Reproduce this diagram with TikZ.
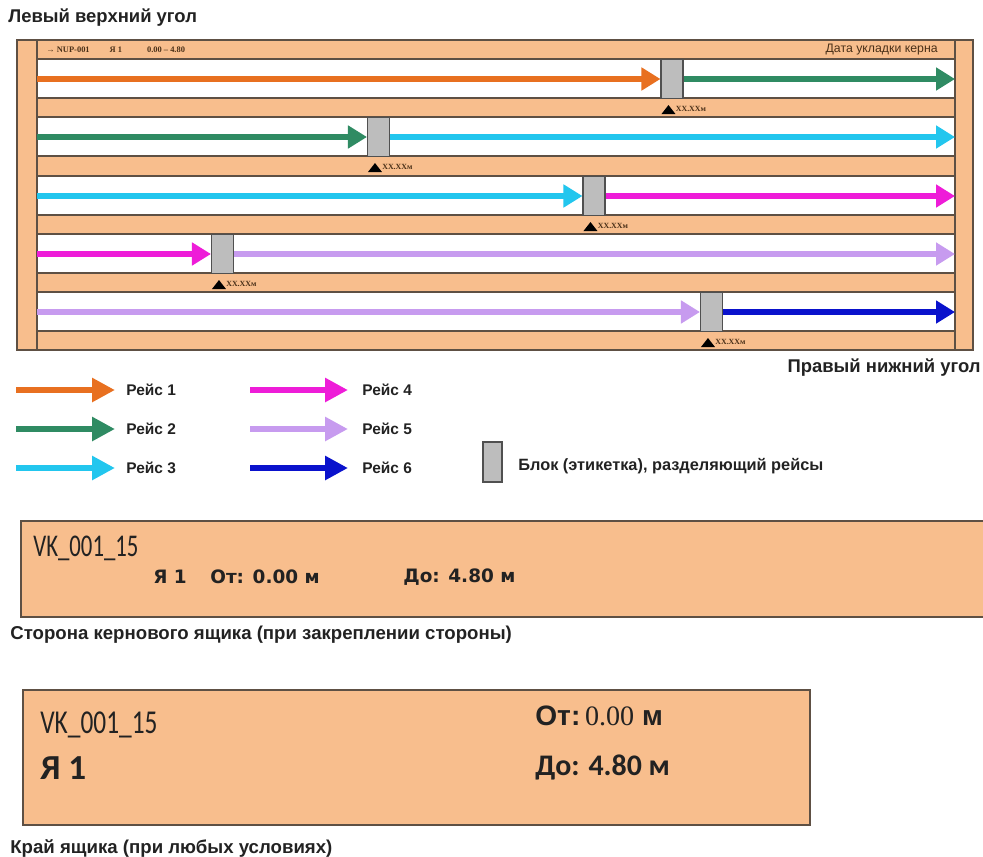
\documentclass[tikz,border=0pt]{standalone}
\usepackage{fontspec}
\setmainfont{Liberation Sans}
\newfontfamily\labelserif{Liberation Serif}
\newfontfamily\carlito{Carlito}
\newfontfamily\carlitonarrow[FakeStretch=0.72]{Carlito}
\newfontfamily\carlitowide[FakeStretch=0.76]{Carlito}
\newfontfamily\dejavu{DejaVu Sans}
\usepackage{tikz}
\usetikzlibrary{positioning, arrows.meta, calc}
\definecolor{reisOrange}{HTML}{E87020}
\definecolor{reisGreen}{HTML}{2F8B63}
\definecolor{reisCyan}{HTML}{22C6EE}
\definecolor{reisMagenta}{HTML}{EE1CD8}
\definecolor{reisLilac}{HTML}{C79BEF}
\definecolor{reisBlue}{HTML}{0A12CC}
\definecolor{boxPeach}{HTML}{F8BE8D}
\definecolor{boxLine}{HTML}{5E5044}
\definecolor{blockGray}{HTML}{BDBDBD}
\definecolor{blockEdge}{HTML}{505050}
\definecolor{tagBrown}{HTML}{4A3018}
\definecolor{textDark}{HTML}{222222}

\begin{document}
\begin{tikzpicture}[
  x=0.02cm, y=-0.02cm,
  every node/.style={inner sep=0pt, text=textDark},
  reis/.style={#1, line width=3.6pt, -{Triangle[length=3.8mm, width=4.4mm]}},
  legarrow/.style={#1, line width=3.6pt, -{Triangle[length=4.6mm, width=4.6mm]}},
  blockbox/.style={
    draw=blockEdge, fill=blockGray, line width=0.6pt,
    minimum width=0.44cm, minimum height=0.78cm
  },
  tag/.style={font=\labelserif\fontsize{4.5}{5}\selectfont\bfseries, text=tagBrown, anchor=west},
  corner/.style={font=\fontsize{10.5}{12}\selectfont\bfseries},
  legtext/.style={font=\fontsize{8.8}{10}\selectfont\bfseries, anchor=west},
  caption/.style={font=\fontsize{10.6}{12}\selectfont\bfseries, anchor=west},
]
\useasboundingbox (0,0) rectangle (983,856);

% Corner labels
\node[corner, anchor=west] (topleft) at (8,18) {Левый верхний угол};
\node[corner, anchor=east] (bottomright) at (981,368) {Правый нижний угол};

% Core box with rows
\fill[boxPeach] (17,40) rectangle (973,350);
\foreach \yc in {79,137,196,254,312} {
  \fill[white] (37,\yc-20) rectangle (955,\yc+19);
  \draw[boxLine, line width=0.7pt] (37,\yc-20) -- (955,\yc-20);
  \draw[boxLine, line width=0.7pt] (37,\yc+19) -- (955,\yc+19);
}
\draw[boxLine, line width=0.8pt] (17,40) rectangle (973,350);
\draw[boxLine, line width=0.7pt] (37,40) -- (37,350);
\draw[boxLine, line width=0.7pt] (955,40) -- (955,350);

% Header strip
\node[tag, font=\labelserif\fontsize{4.8}{5}\selectfont\bfseries] (headid) at (46,50)
  {→ NUP-001\hspace{4mm}Я 1\hspace{5mm}0.00 – 4.80};
\node[font=\fontsize{7}{8}\selectfont, text=tagBrown, anchor=east] (laydate) at (938,50) {Дата укладки керна};

% Runs and separating blocks
\foreach \i/\yc/\bx/\ca/\cb in {
  1/79/672/reisOrange/reisGreen,
  2/137/378.5/reisGreen/reisCyan,
  3/196/594/reisCyan/reisMagenta,
  4/254/222.5/reisMagenta/reisLilac,
  5/312/711.5/reisLilac/reisBlue} {
  \node[blockbox] (blk\i) at (\bx,\yc) {};
  \coordinate (rs\i) at (37,\yc);
  \coordinate (re\i) at (955,\yc);
  \draw[reis=\ca] (rs\i) -- (blk\i.west);
  \draw[reis=\cb] (blk\i.east) -- (re\i);
  \fill[black] ($(blk\i.south west)+(1,15)$) -- ++(14,0) -- ++(-7,-9) -- cycle;
  \node[tag] (tag\i) at ($(blk\i.south west)+(15,10)$) {ХХ.ХХм};
}

% Legend
\foreach \n/\yy/\cl in {1/390/reisOrange, 2/429/reisGreen, 3/468/reisCyan} {
  \coordinate (la\n) at (16,\yy);
  \coordinate (lb\n) at (115,\yy);
  \draw[legarrow=\cl] (la\n) -- (lb\n);
  \node[legtext] (lt\n) at (126,\yy) {Рейс \n};
}
\foreach \n/\yy/\cl in {4/390/reisMagenta, 5/429/reisLilac, 6/468/reisBlue} {
  \coordinate (la\n) at (250,\yy);
  \coordinate (lb\n) at (348,\yy);
  \draw[legarrow=\cl] (la\n) -- (lb\n);
  \node[legtext] (lt\n) at (362,\yy) {Рейс \n};
}
\node[blockbox, minimum width=0.38cm, minimum height=0.8cm] (legblk) at (492.5,462) {};
\node[legtext, font=\fontsize{9.3}{11}\selectfont\bfseries] (legblktxt) at (518,466)
  {Блок (этикетка), разделяющий рейсы};

% Box side label
\fill[boxPeach] (21,521) rectangle (983,617);
\draw[boxLine, line width=0.8pt] (983,521) -- (21,521) -- (21,617) -- (983,617);
\node[anchor=west, font=\carlitonarrow\fontsize{18}{20}\selectfont] (sideid) at (33,548) {VK\_001\_15};
\node[anchor=west, font=\dejavu\bfseries\fontsize{10.5}{12}\selectfont] (sidebox) at (153,577) {Я 1};
\node[anchor=west, font=\dejavu\bfseries\fontsize{10.5}{12}\selectfont] (sidefrom) at (210,577) {От: 0.00 м};
\node[anchor=west, font=\dejavu\bfseries\fontsize{10.5}{12}\selectfont] (sideto) at (403,577) {До: 4.80 м};
\node[caption] (sidecap) at (10,635) {Сторона кернового ящика (при закреплении стороны)};

% Box end label
\draw[boxLine, line width=0.8pt, fill=boxPeach] (23,690) rectangle (810,825);
\node[anchor=west, font=\carlitowide\fontsize{19}{21}\selectfont] (endid) at (40,725) {VK\_001\_15};
\node[anchor=west, font=\carlito\bfseries\fontsize{20}{22}\selectfont] (endbox) at (40,768) {Я 1};
\node[anchor=west, font=\fontsize{16}{18}\selectfont\bfseries] (endfrom) at (535,716)
  {От:\,{\labelserif\mdseries 0.00} м};
\node[anchor=west, font=\carlito\bfseries\fontsize{17}{19}\selectfont] (endto) at (535,767) {До: 4.80 м};
\node[caption] (endcap) at (10,848) {Край ящика (при любых условиях)};

\end{tikzpicture}
\end{document}
